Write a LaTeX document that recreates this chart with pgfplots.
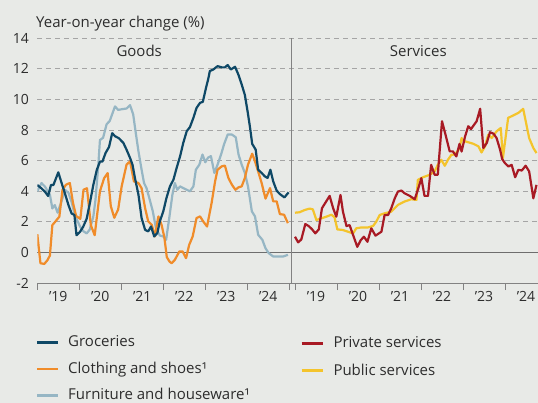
\documentclass[border=0pt]{standalone}
\usepackage{fontspec}
\setmainfont{Open Sans}
\usepackage{pgfplots}
\usepackage{pgfplotstable}
\pgfplotsset{compat=1.18}
\definecolor{bg}{RGB}{232,234,231}
\definecolor{txt}{RGB}{45,45,45}
\definecolor{gridgray}{RGB}{165,165,165}
\definecolor{axisgray}{RGB}{130,130,130}
\definecolor{zerogray}{RGB}{110,110,110}
\definecolor{groc}{RGB}{14,72,102}
\definecolor{cloth}{RGB}{240,140,42}
\definecolor{furn}{RGB}{150,182,196}
\definecolor{priv}{RGB}{168,26,36}
\definecolor{pub}{RGB}{244,196,44}

\pgfplotstableread{
m v
0.0 4.41
1.2 4.19
2.2 3.97
3.1 3.69
3.9 4.41
4.6 4.41
6.0 5.24
7.0 4.5
7.9 3.86
8.9 3.1
9.8 2.55
10.6 2.45
11.2 1.13
12.2 1.35
13.1 1.68
14.1 2.2
15.0 3.2
16.0 4.41
17.0 5.4
17.9 5.94
18.6 5.94
19.5 6.5
20.5 6.9
21.4 7.8
22.2 7.6
23.3 7.47
24.6 7.16
25.5 6.72
26.5 6.18
27.2 5.74
27.9 4.87
28.9 3.78
29.8 2.25
30.8 1.48
31.7 1.38
32.5 1.7
33.4 1.05
34.3 1.27
35.0 2.03
36.0 2.69
36.9 3.56
37.9 4.32
38.9 4.76
39.8 5.52
40.8 6.29
41.7 7.16
42.7 7.93
43.6 8.19
44.6 8.8
45.5 9.45
46.5 9.78
47.3 9.85
48.2 10.76
48.8 11.3
49.3 11.86
50.3 11.96
51.5 12.18
52.7 12.1
53.6 12.1
54.4 12.25
55.3 11.96
56.5 12.14
57.5 11.6
58.4 10.98
59.3 10.3
60.1 9.2
60.8 8.14
61.4 7.1
62.4 6.72
63.1 5.41
64.1 5.2
65.0 4.98
65.8 4.87
66.6 5.41
67.4 4.65
68.4 4.04
69.3 3.82
70.6 3.6
71.8 3.93
}\groceries

\pgfplotstableread{
m v
0.0 1.2
0.9 -0.7
2.0 -0.75
2.9 -0.5
3.6 -0.2
4.3 1.79
5.3 2.06
6.3 2.34
7.2 4.1
8.2 4.43
9.3 4.54
10.2 3.24
11.1 2.38
12.3 2.2
13.2 4.1
14.2 4.2
15.3 1.78
16.4 1.13
17.9 4.0
19.1 4.86
20.1 5.19
21.0 3.03
22.0 2.27
23.1 2.81
24.1 4.32
25.5 5.74
26.5 5.96
27.6 4.65
28.9 4.54
29.8 4.2
30.8 2.9
31.7 2.03
32.7 1.81
33.6 1.05
34.6 2.36
35.5 1.81
36.3 1.0
37.0 -0.3
37.8 -0.6
38.4 -0.7
39.3 -0.48
40.6 0.07
41.5 0.07
42.5 -0.37
43.4 0.5
44.4 1.05
45.5 2.25
46.5 2.36
47.4 2.03
48.5 1.7
49.8 3.23
50.8 4.65
51.5 5.41
52.7 5.63
53.6 5.68
54.6 4.87
55.6 4.43
56.6 4.1
57.5 4.26
58.4 4.32
59.3 4.87
60.2 5.74
61.4 6.46
62.2 5.96
63.1 5.3
64.1 4.54
65.2 3.52
66.5 4.21
67.4 3.34
68.4 3.34
69.3 2.51
70.5 2.47
71.6 1.92
}\clothing

\pgfplotstableread{
m v
0.0 4.0
1.2 4.54
2.2 4.3
3.1 3.97
3.6 3.78
4.3 2.88
5.0 3.1
5.8 2.6
7.0 3.4
7.9 4.1
8.9 3.9
9.8 3.3
10.8 2.4
12.2 1.7
13.1 1.4
14.1 1.25
15.0 1.5
16.0 2.34
16.6 3.4
17.4 5.6
17.9 7.35
18.8 7.5
19.8 8.38
20.7 8.6
22.2 9.55
23.1 9.32
24.3 9.37
25.5 9.41
26.5 9.63
27.4 9.02
28.2 7.71
28.9 6.62
29.8 5.41
30.5 4.54
31.2 4.21
32.0 3.56
33.0 2.69
33.9 1.59
35.0 1.11
36.0 1.05
36.8 0.83
37.7 2.25
38.6 3.78
39.3 4.54
40.0 4.1
40.8 4.32
41.7 4.21
42.7 4.1
43.6 4.0
44.6 4.32
45.3 5.41
46.3 5.74
47.2 6.4
48.0 5.9
48.8 6.2
49.6 6.3
50.6 5.2
51.5 5.74
52.5 6.4
53.4 7.1
54.4 7.71
55.6 7.71
56.7 7.53
57.5 6.4
58.4 5.74
59.3 5.2
60.2 4.32
61.3 2.69
62.2 2.36
63.1 1.16
64.3 0.83
65.2 0.28
66.1 -0.04
67.4 -0.26
68.8 -0.26
70.3 -0.26
71.6 -0.15
}\furniture

\pgfplotstableread{
m v
0.0 1.03
0.9 0.66
1.8 0.85
2.95 1.86
3.9 1.73
4.9 1.51
5.8 1.25
6.8 1.51
7.7 2.89
8.7 3.26
9.9 3.7
10.9 2.89
11.8 2.34
13.0 3.76
13.7 2.67
14.7 1.73
15.6 1.79
16.6 1.14
17.8 0.37
18.8 0.81
19.7 1.03
20.7 0.7
21.8 1.58
23.0 1.1
24.7 1.36
25.6 2.45
26.6 2.45
27.5 2.89
28.5 3.54
29.4 3.98
30.4 4.05
31.3 3.87
32.8 3.7
34.2 3.48
35.1 4.09
36.1 4.86
37.0 3.7
38.0 3.7
38.9 5.73
39.9 5.08
40.8 5.08
42.0 8.58
43.0 7.7
44.2 6.61
45.1 6.61
46.1 6.28
47.0 7.1
47.6 6.6
48.6 7.59
49.5 8.25
50.3 8.07
51.2 8.36
51.9 8.58
52.9 9.39
53.8 6.83
54.8 7.16
55.7 7.86
56.7 7.77
57.6 7.48
58.6 6.72
59.2 6.1
60.0 5.84
61.0 5.62
61.9 5.73
62.9 4.92
63.8 5.4
64.8 5.36
65.9 5.67
66.9 5.3
68.1 3.54
69.0 4.42
}\private

\pgfplotstableread{
m v
0.0 2.6
1.3 2.63
2.8 2.78
4.2 2.87
5.1 2.82
6.1 2.12
7.5 2.23
8.95 2.34
10.4 2.47
11.3 2.3
12.1 1.51
13.7 1.47
15.1 1.36
16.6 1.25
17.5 1.58
19.0 1.64
20.9 1.64
22.3 1.73
23.2 2.01
24.2 2.45
25.6 2.56
27.5 2.67
29.4 3.11
31.3 3.33
33.2 3.48
34.7 3.44
35.1 4.75
36.6 4.92
38.5 5.08
39.9 5.3
40.8 5.73
41.8 6.06
42.8 5.67
43.7 6.06
44.7 6.39
45.7 6.4
47.0 6.8
47.6 7.48
48.1 7.3
50.9 7.11
52.4 6.94
53.3 6.54
54.3 6.94
55.2 7.7
56.2 7.48
57.6 7.92
58.8 8.14
59.4 6.17
60.9 8.8
62.3 8.95
63.8 9.12
65.2 9.39
66.9 7.48
68.1 6.83
69.0 6.5
}\public

\begin{document}
\begin{tikzpicture}[x=1pt,y=1pt]
\useasboundingbox (0,0) rectangle (538,403);
\fill[bg] (0,0) rectangle (538,403);
\begin{axis}[
  at={(37.3pt,119.9pt)}, anchor=south west,
  scale only axis, width=500.7pt, height=244.8pt,
  xmin=0, xmax=143.06, ymin=-2, ymax=14,
  axis x line*=bottom, axis y line*=left,
  y axis line style={draw=none},
  x axis line style={draw=axisgray, line width=0.8pt, -},
  ytick={-2,0,2,4,6,8,10,12,14},
  yticklabels={-2,0,2,4,6,8,10,12,14},
  ytick style={draw=none},
  ymajorgrids,
  grid style={gridgray, dash pattern=on 5pt off 4pt, line width=0.8pt},
  xtick={0,12,24,36,48,60,72,73.63,85.63,97.63,109.63,121.63,133.63},
  xticklabels={},
  xtick style={draw=axisgray, line width=0.8pt},
  tick align=outside, major tick length=7pt,
  extra x ticks={6,18,30,42,54,66,79.63,91.63,103.63,115.63,127.63,139.63},
  extra x tick labels={’19,’20,’21,’22,’23,’24,’19,’20,’21,’22,’23,’24},
  extra x tick style={major tick length=0pt, xticklabel style={yshift=-5pt}},
  every tick label/.append style={font=\fontsize{14}{16}\selectfont, text=txt},
  yticklabel style={xshift=2pt},
  clip=true,
  line join=round,
]
\addplot[zerogray, line width=0.9pt, no marks, forget plot] coordinates {(0,0) (143.06,0)};
\addplot[furn, line width=2.2pt, no marks] table[x=m, y=v] {\furniture};
\addplot[cloth, line width=2.2pt, no marks] table[x=m, y=v] {\clothing};
\addplot[groc, line width=2.2pt, no marks] table[x=m, y=v] {\groceries};
\addplot[pub, line width=2.2pt, no marks] table[x expr=\thisrow{m}+73.63, y=v] {\public};
\addplot[priv, line width=2.2pt, no marks] table[x expr=\thisrow{m}+73.63, y=v] {\private};
\draw[axisgray, line width=0.9pt] (axis cs:72.69,14) -- ([yshift=-7pt]axis cs:72.69,-2);
\end{axis}
\begin{scope}[font=\fontsize{15}{18}\selectfont, text=txt]
\node[anchor=base west, inner sep=0] at (36,375) {Year-on-year change (\%)};
\node[anchor=base, inner sep=0] at (139.2,346.3) {Goods};
\node[anchor=base, inner sep=0] at (418.3,346.3) {Services};
% legend
\draw[groc, line width=2.7pt] (37,60.7) -- (58,60.7);
\node[anchor=base west, inner sep=0] at (68,56.3) {Groceries};
\draw[cloth, line width=2.7pt] (37,34) -- (58,34);
\node[anchor=base west, inner sep=0] at (68,29.6) {Clothing and shoes¹};
\draw[furn, line width=2.7pt] (37,7.5) -- (58,7.5);
\node[anchor=base west, inner sep=0] at (68,3.1) {Furniture and houseware¹};
\draw[priv, line width=2.7pt] (301.7,59.7) -- (323.3,59.7);
\node[anchor=base west, inner sep=0] at (333.3,55.3) {Private services};
\draw[pub, line width=2.7pt] (301.7,32.3) -- (323.3,32.3);
\node[anchor=base west, inner sep=0] at (333.3,27.9) {Public services};
\end{scope}
\end{tikzpicture}
\end{document}
